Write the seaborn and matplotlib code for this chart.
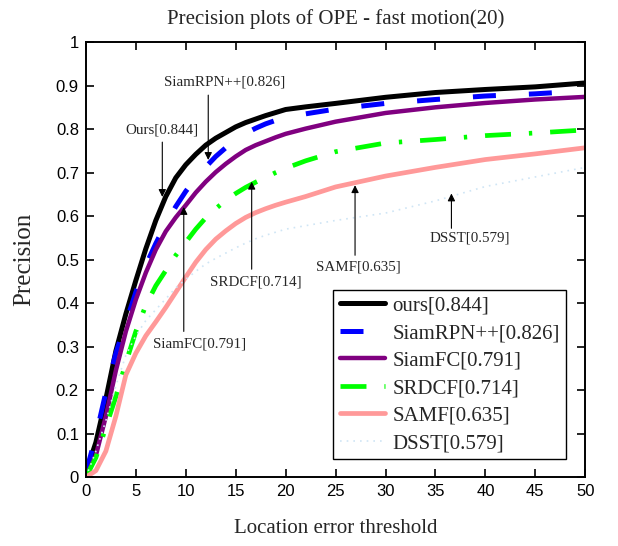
import numpy as np
import pandas as pd
import matplotlib
matplotlib.use("Agg")
import matplotlib.pyplot as plt
import seaborn as sns

# ---------------- data ----------------
thresholds = [0, 1, 2, 3, 4, 5, 6, 7, 8, 9, 10, 11, 12, 13, 14, 15, 16, 17, 18, 19, 20,
              22, 25, 30, 35, 40, 45, 50]

ours = [0.01, 0.08, 0.18, 0.29, 0.375, 0.452, 0.525, 0.59, 0.645, 0.688, 0.718,
        0.742, 0.763, 0.779, 0.792, 0.805, 0.815, 0.823, 0.831, 0.838, 0.845,
        0.851, 0.859, 0.873, 0.884, 0.891, 0.897, 0.906]
siamrpnpp = [0.01, 0.095, 0.195, 0.285, 0.355, 0.425, 0.487, 0.537, 0.582, 0.622, 0.657,
             0.687, 0.713, 0.737, 0.757, 0.775, 0.79, 0.802, 0.812, 0.82, 0.826,
             0.835, 0.846, 0.859, 0.868, 0.876, 0.881, 0.888]
siamfc = [0.0, 0.05, 0.14, 0.245, 0.335, 0.408, 0.47, 0.523, 0.565, 0.597, 0.625,
          0.654, 0.679, 0.701, 0.72, 0.737, 0.752, 0.763, 0.772, 0.781, 0.789,
          0.801, 0.817, 0.837, 0.85, 0.86, 0.868, 0.874]
srdcf = [0.0, 0.045, 0.115, 0.185, 0.263, 0.335, 0.395, 0.44, 0.475, 0.51, 0.54,
         0.57, 0.596, 0.617, 0.636, 0.652, 0.666, 0.678, 0.689, 0.7, 0.71,
         0.727, 0.748, 0.768, 0.776, 0.785, 0.791, 0.798]
samf = [0.0, 0.015, 0.06, 0.14, 0.235, 0.285, 0.325, 0.357, 0.39, 0.425, 0.46,
        0.494, 0.523, 0.547, 0.566, 0.583, 0.597, 0.608, 0.617, 0.625, 0.632,
        0.645, 0.667, 0.692, 0.712, 0.73, 0.743, 0.757]
dsst = [0.0, 0.06, 0.13, 0.21, 0.28, 0.325, 0.36, 0.385, 0.41, 0.435, 0.455,
        0.473, 0.49, 0.503, 0.515, 0.527, 0.538, 0.548, 0.556, 0.563, 0.57,
        0.578, 0.59, 0.607, 0.635, 0.668, 0.69, 0.712]

labels = ["ours[0.844]", "SiamRPN++[0.826]", "SiamFC[0.791]",
          "SRDCF[0.714]", "SAMF[0.635]", "DSST[0.579]"]
series = [ours, siamrpnpp, siamfc, srdcf, samf, dsst]

x_ticks = [0, 5, 10, 15, 20, 25, 30, 35, 40, 45, 50]
y_ticks = [0, 0.1, 0.2, 0.3, 0.4, 0.5, 0.6, 0.7, 0.8, 0.9, 1]
y_tick_labels = ["0", "0.1", "0.2", "0.3", "0.4", "0.5", "0.6", "0.7", "0.8", "0.9", "1"]

# annotation: text, text position (x, y), arrow start (x, y), arrow tip (x, y)
ann_texts = ["Ours[0.844]", "SiamRPN++[0.826]", "SiamFC[0.791]",
             "SRDCF[0.714]", "SAMF[0.635]", "DSST[0.579]"]
ann_text_xy = [(7.6, 0.798), (13.9, 0.909), (11.4, 0.307),
               (17.0, 0.449), (27.3, 0.483), (38.4, 0.549)]
ann_start_xy = [(7.65, 0.770), (12.25, 0.878), (9.8, 0.335),
                (16.6, 0.478), (26.95, 0.510), (36.6, 0.572)]
ann_tip_xy = [(7.65, 0.644), (12.25, 0.729), (9.8, 0.621),
              (16.6, 0.679), (26.95, 0.671), (36.6, 0.652)]

# ---------------- styling ----------------
colors = ["#000000", "#0000ff", "#800080", "#00ff00", "#ff9999", "#cfe5f5"]
widths = [3.6, 3.6, 3.2, 3.4, 3.4, 1.2]
dash_styles = ["", (4.6, 6.6), "", (5.5, 3.8, 0.7, 3.8), "", (1, 3)]

df = pd.DataFrame({
    "threshold": np.tile(thresholds, len(labels)),
    "precision": np.concatenate(series),
    "method": np.repeat(labels, len(thresholds)),
})

sns.set_theme(style="white")
plt.rcParams["font.family"] = ["Liberation Serif", "DejaVu Serif"]
plt.rcParams["lines.solid_joinstyle"] = "round"
plt.rcParams["lines.dash_joinstyle"] = "round"

fig = plt.figure(figsize=(6.18, 5.46), dpi=100)
ax = fig.add_axes([0.139, 0.126, 0.808, 0.797])

sns.lineplot(data=df, x="threshold", y="precision", hue="method",
             hue_order=labels, palette=dict(zip(labels, colors)),
             style="method", style_order=labels,
             dashes=dict(zip(labels, dash_styles)),
             size="method", size_order=labels,
             sizes=dict(zip(labels, widths)),
             ax=ax, legend=True)

ax.set_xlim(0, 50)
ax.set_ylim(0, 1)
ax.set_xticks(x_ticks)
ax.set_yticks(y_ticks)
ax.set_xticklabels([str(t) for t in x_ticks], family="Liberation Sans", fontsize=12)
ax.set_yticklabels(y_tick_labels, family="Liberation Sans", fontsize=12)
ax.tick_params(direction="in", length=5.8, width=1.2, top=True, right=True,
               bottom=True, left=True, pad=5, colors="black")
for sp in ax.spines.values():
    sp.set_visible(True)
    sp.set_color("black")
    sp.set_linewidth(1.4)

ax.set_xlabel("Location error threshold", fontsize=15, labelpad=14)
ax.set_ylabel("Precision", fontsize=18, labelpad=15)
ax.set_title("Precision plots of OPE - fast motion(20)", fontsize=15, pad=13)

for t, txy, sxy, pxy in zip(ann_texts, ann_text_xy, ann_start_xy, ann_tip_xy):
    ax.text(txy[0], txy[1], t, ha="center", va="center", fontsize=10.8)
    ax.annotate("", xy=pxy, xytext=sxy,
                arrowprops=dict(arrowstyle="-|>", color="black", lw=0.8,
                                mutation_scale=11, shrinkA=0, shrinkB=0))

handles, lbls = ax.get_legend_handles_labels()
leg = ax.legend(handles, lbls, loc="lower right", bbox_to_anchor=(0.962, 0.041),
                fontsize=15, frameon=True, fancybox=False, framealpha=1,
                edgecolor="black", handlelength=2.2, handletextpad=0.35,
                labelspacing=0.38, borderpad=0.3, borderaxespad=0)
leg.get_frame().set_linewidth(1.0)

fig.savefig("out.png", dpi=100)
